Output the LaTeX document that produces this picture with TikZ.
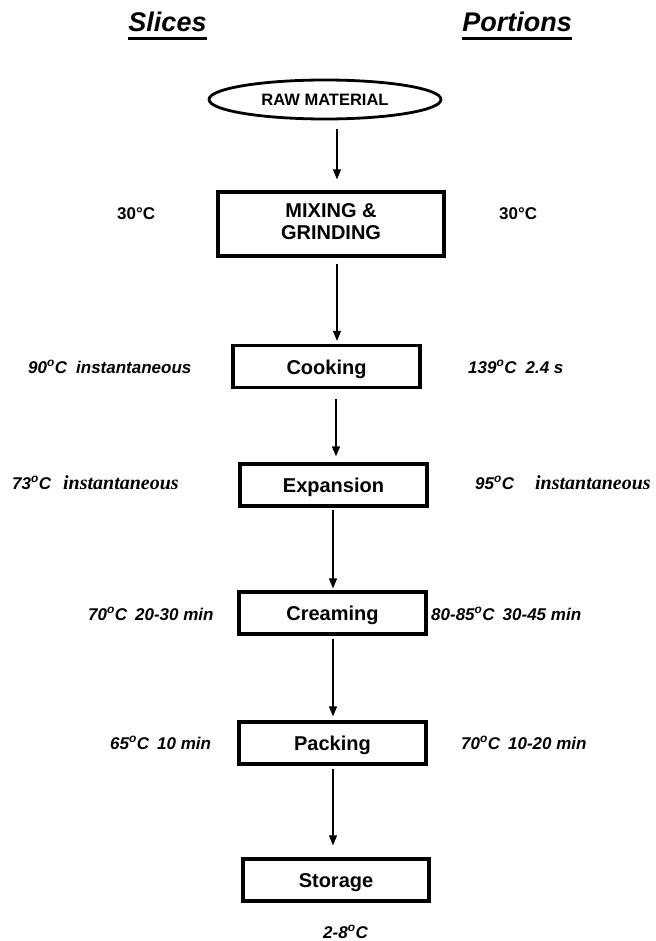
\documentclass[tikz,border=0pt]{standalone}
\usepackage{fontspec}
\setmainfont{Liberation Sans}
\newfontfamily\timesfont{Liberation Serif}
\usetikzlibrary{arrows.meta,shapes.geometric}

% small raised "o" used as the degree mark in the side labels
\newcommand{\dg}{\textsuperscript{o}}

\tikzset{
  stepbox/.style={draw, line width=3.2pt, rectangle, minimum width=187pt,
    minimum height=42pt, inner sep=0pt, align=center,
    text height=15pt, text depth=0pt,
    font=\fontsize{20}{23}\selectfont\bfseries},
  flow/.style={line width=1.3pt, -{Triangle[length=10pt,width=8pt]}},
  cond/.style={anchor=base west, inner sep=0pt,
    font=\fontsize{17}{20}\selectfont\bfseries\itshape},
  heading/.style={anchor=base, inner sep=0pt,
    font=\fontsize{27}{30}\selectfont\bfseries\itshape},
}

\begin{document}
\begin{tikzpicture}[x=1pt,y=-1pt]
\useasboundingbox (0,0) rectangle (655,941);

% column headings
\node[heading] (hslices) at (167.5,32) {Slices};
\node[heading] (hportions) at (517,32) {Portions};
\draw[line width=3pt] (hslices.base west) ++(0,6.5) -- ++(79,0);
\draw[line width=3pt] (hportions.base west) ++(0,6.5) -- ++(110,0);

% process steps
\node[draw, ellipse, line width=2.8pt, minimum width=232pt, minimum height=39pt,
      inner sep=0pt, font=\fontsize{16.5}{19}\selectfont\bfseries]
      (raw) at (325,99.5) {RAW MATERIAL};
\node[stepbox, minimum width=226pt, minimum height=64pt,
      text height=, text depth=] (mix) at (331,224)
      {\raisebox{4pt}{MIXING \&}\\[-1pt]\raisebox{4pt}{GRINDING}};
\node[stepbox] (cook)  at (326.5,366.5) {Cooking};
\node[stepbox] (exp)   at (333.5,485)   {Expansion};
\node[stepbox] (cream) at (332.5,613)   {Creaming};
\node[stepbox] (pack)  at (332.5,743)   {Packing};
\node[stepbox, minimum width=186pt] (stor) at (336,880) {Storage};

% connectors
\draw[flow, shorten <=9pt, shorten >=11pt]
  ([xshift=12pt]raw.south) -- ([xshift=12pt]raw.south |- mix.north);
\draw[flow, shorten <=6pt, shorten >=3pt]
  ([xshift=6pt]mix.south) -- ([xshift=6pt]mix.south |- cook.north);
\draw[flow, shorten <=10pt, shorten >=6pt]
  ([xshift=9.5pt]cook.south) -- ([xshift=9.5pt]cook.south |- exp.north);
\draw[flow, shorten <=2pt, shorten >=2pt]
  ([xshift=-0.5pt]exp.south) -- ([xshift=-0.5pt]exp.south |- cream.north);
\draw[flow, shorten <=3pt, shorten >=4pt]
  ([xshift=0.5pt]cream.south) -- ([xshift=0.5pt]cream.south |- pack.north);
\draw[flow, shorten <=3pt, shorten >=12pt]
  ([xshift=0.5pt]pack.south) -- ([xshift=0.5pt]pack.south |- stor.north);

% conditions for slices (left) and portions (right)
\node[cond, font=\fontsize{17}{20}\selectfont\bfseries] (l1) at (117,219) {30°C};
\node[cond, font=\fontsize{17}{20}\selectfont\bfseries] (r1) at (499,219) {30°C};

\node[cond] (l2) at (28,373) {90\dg C\hspace{9pt}instantaneous};
\node[cond] (r2) at (468,373) {139\dg C\hspace{9pt}2.4 s};

\node[cond] (l3) at (12,489) {73\dg C\hspace{12pt}{\timesfont\fontsize{20}{22}\selectfont instantaneous}};
\node[cond] (r3) at (475,489) {95\dg C\hspace{21pt}{\timesfont\fontsize{20}{22}\selectfont instantaneous}};

\node[cond] (l4) at (88,620) {70\dg C\hspace{8pt}20-30 min};
\node[cond] (r4) at (431,620) {80-85\dg C\hspace{8pt}30-45 min};

\node[cond] (l5) at (110,749) {65\dg C\hspace{8pt}10 min};
\node[cond] (r5) at (461,749) {70\dg C\hspace{8pt}10-20 min};

\node[cond, anchor=base] (s1) at (345.5,938) {2-8\dg C};
\end{tikzpicture}
\end{document}
